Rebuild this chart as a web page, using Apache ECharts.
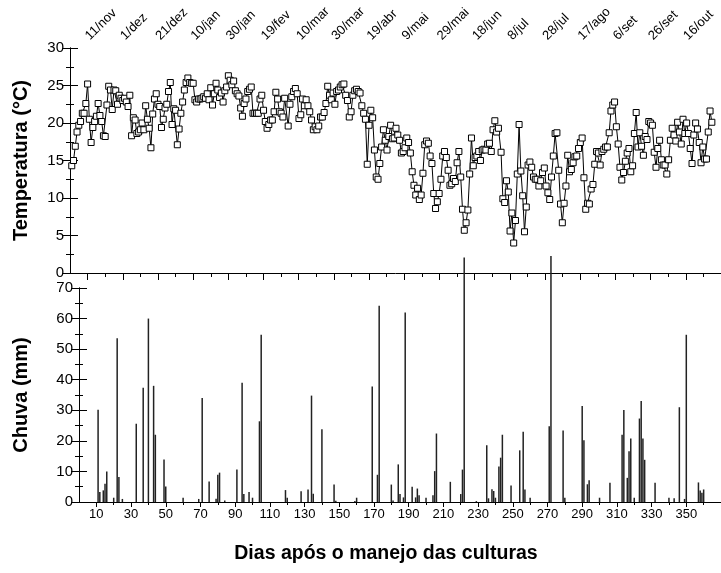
<!DOCTYPE html>
<html><head><meta charset="utf-8">
<script src="https://cdn.jsdelivr.net/npm/echarts@6/dist/echarts.min.js"></script>
<style>html,body{margin:0;padding:0;background:#fff}#c{width:721px;height:573px}</style>
</head><body><div id="c"></div>
<script>
// ---- data ----
const dateLabels = ['11/nov','1/dez','21/dez','10/jan','30/jan','19/fev','10/mar','30/mar','19/abr','9/mai','29/mai','18/jun','8/jul','28/jul','17/ago','6/set','26/set','16/out'];
const labelDays = [10,30,50,70,90,110,130,150,170,190,210,230,250,270,290,310,330,350];
const minorDays = [20,40,60,80,100,120,140,160,180,200,220,240,260,280,300,320,340,360];

// temperature readings (°C), three consecutive stretches of daily values
const tempSeg1 = [14.3,15.0,16.9,18.8,19.7,20.2,21.3,21.3,22.6,25.2,20.5,17.4,19.4,20.2,20.9,22.6,21.0,20.2,18.3,18.2,22.4,24.9,24.4,21.8,24.4,24.3,22.5,23.7,23.3,23.0,23.3,22.8,22.2,23.7,18.3,20.7,20.4,18.6,18.8,19.1,20.0,19.1,22.3,20.5,19.3,16.7,21.2,23.2,23.9,22.5,22.2,19.4,20.5,22.0,22.5,24.2,25.4,19.8,21.9,21.7,17.1,19.2,21.3,22.8,24.4,25.4,26.0,25.4,25.3,25.3,23.1,22.8,23.2,23.2,23.3,23.5,23.3,23.9,23.1,24.7,22.4,23.9,25.3,24.4,23.4,24.0,22.8,24.3,24.8,26.3,25.7,25.1,25.6,24.3,23.9,23.6,22.0,20.9,22.6,23.2,24.2,24.5,24.8,21.3,21.3,21.3,21.3,23.2,23.7,21.7,20.2,19.3,19.8,20.4,20.4,21.5,24.1,23.2,21.5,21.3,20.8,23.3];
const tempSeg2 = [19.6,22.5,23.5,24.2,24.6,23.9,20.6,21.1,23.2,22.3,23.1,22.3,21.5,20.4,19.1,19.5,19.1,19.6,20.8,20.8,21.4,22.6,24.9,23.7,23.1,24.0,22.5,24.2,24.4,24.8,25.1,25.2,23.7,23.0,20.8,21.5,23.7,24.3,24.5,24.2,24.0,22.3,21.3,20.5,14.5,19.7,21.7,20.7,16.4,12.8,12.5,14.6,16.8,19.1,17.7,16.4,18.2,19.7,17.9,18.0,19.3,18.4,17.7,16.0,16.2,16.7,18.0,17.4,16.0,13.5,11.7,10.4,11.3,9.8,10.4,13.3,17.1,17.6,17.3,15.6,14.6,10.6,8.6,9.5,10.6,12.5,15.6,16.2,15.4,13.7,11.7,11.9,12.6,12.2,14.7,16.2,12.8,8.5,5.7,6.7,8.4,13.2,18.0,14.3,15.4,15.6,16.2,15.0,16.4,16.5,16.4,17.2,17.3,16.2,19.1,20.3,18.8,19.3];
const tempSeg3 = [16.1,9.9,9.4,12.3,10.8,5.6,8.0,4.0,7.0,13.2,19.8,13.6,10.3,5.5,8.8,14.4,14.8,14.1,12.8,12.5,12.5,11.6,12.3,13.4,14.0,11.6,10.7,9.8,12.8,15.6,18.6,18.7,13.7,9.2,6.7,9.3,11.6,15.7,13.5,13.8,14.7,15.5,15.6,16.6,17.4,18.0,12.7,8.5,9.3,9.2,11.2,11.8,14.5,16.2,16.0,14.4,16.2,16.5,16.8,16.8,18.7,21.6,22.4,22.8,19.5,17.2,14.1,12.4,13.4,14.9,16.0,16.6,13.5,14.3,18.6,21.4,16.8,18.7,16.9,15.7,18.2,17.8,20.2,20.0,19.7,16.1,14.1,16.6,17.7,15.1,14.4,14.4,13.2,15.1,17.7,19.3,18.4,17.6,20.1,18.8,17.2,20.5,18.6,20.0,18.6,16.6,14.6,18.4,20.0,19.2,17.4,14.7,16.8,15.2,15.2,18.8,21.6,20.1];
// first and last day covered by each stretch
const segStart = [1, 124, 245];
const segEnd = [122, 243.5, 364.8];

// rainfall
const rainDays = [11,12,14,15,16,20,22,23,25,33,37,40,43,44,49,50,60,69,71,75,79,80,81,84,91,94,95,98,100,104,105,119,120,128,132,134,135,140,147,148,159,160,169,172,173,180,181,184,185,187,188,192,194,195,196,200,204,205,206,214,220,221,222,229,235,236,238,239,240,242,243,244,249,254,256,257,260,271,272,279,280,290,291,293,294,300,306,313,314,316,317,318,320,323,324,325,326,332,340,343,346,349,350,357,358,359,360];
const rainMm = [30.2,3.3,3.8,6,10,1.4,53.6,8.2,1,25.6,37.4,60,38,22,13.9,5.1,1.4,1,34,6.7,1.1,8.9,9.6,0.5,10.6,39,2.6,3.3,1.4,26.4,54.7,3.9,1.4,3.5,4.1,34.8,2.7,23.8,5.7,0.4,0.3,1.4,37.8,8.9,64.2,5.7,0.5,12.3,2.6,1.5,62,5,1.5,4.4,2.2,1.4,2.2,10.1,22.4,6.6,2.6,10.6,80,0.3,18.6,1.2,4.2,3.6,1.4,11.6,14.5,22,5.4,16.9,23,4.1,1.4,24.8,80.5,23.4,1.4,31.4,20.2,5.8,7.1,1.4,6.3,22,30.1,7.9,16.6,20.8,1.4,27.3,33,20.8,13.8,6.3,1.4,1.2,31,1,54.7,6.4,3.8,3,4.1];

// ---- build ----
const segs = [tempSeg1, tempSeg2, tempSeg3];
const tempData = [];
segs.forEach((s, k) => {
  const step = s.length > 1 ? (segEnd[k] - segStart[k]) / (s.length - 1) : 1;
  s.forEach((v, i) => tempData.push([segStart[k] + i * step, v]));
});
const rainData = rainDays.map((d, i) => [d, rainMm[i]]);

const FONT = 'Liberation Sans, Arial, sans-serif';
const black = '#000';
function yAx(grid, max, interval, pos, name, showLabel, gap) {
  return {
    type: 'value', gridIndex: grid, position: pos, min: 0, max: max, interval: interval,
    name: name || '', nameLocation: 'middle', nameGap: gap || 40,
    nameTextStyle: {fontFamily: FONT, fontWeight: 'bold', fontSize: 20, color: black},
    axisLine: {show: true, lineStyle: {color: black, width: 1}},
    axisTick: {show: true, inside: true, length: 8, lineStyle: {color: black}},
    minorTick: {show: true, splitNumber: 2, length: 4, lineStyle: {color: black}},
    axisLabel: {show: showLabel, fontFamily: FONT, fontSize: 15, color: black, margin: 6},
    splitLine: {show: false}
  };
}

const option = {
  animation: false,
  backgroundColor: '#fff',
  grid: [
    {left: 70, right: -4, top: 48, height: 225},
    {left: 79, right: -4, top: 288, height: 214}
  ],
  xAxis: [
    { type: 'value', gridIndex: 0, position: 'top', min: 0, max: 370,
      axisLine: {show: true, lineStyle: {color: black}},
      axisTick: {show: true, inside: true, length: 7, customValues: labelDays, lineStyle: {color: black}},
      axisLabel: {show: true, customValues: labelDays, rotate: 45, fontFamily: FONT, fontSize: 13, color: black, margin: 10,
        formatter: v => dateLabels[labelDays.indexOf(v)] || ''},
      splitLine: {show: false} },
    { type: 'value', gridIndex: 0, position: 'top', min: 0, max: 370,
      axisLine: {show: false},
      axisTick: {show: true, inside: true, length: 4, customValues: minorDays, lineStyle: {color: black}},
      axisLabel: {show: false}, splitLine: {show: false} },
    { type: 'value', gridIndex: 1, position: 'bottom', min: 0, max: 370,
      name: 'Dias após o manejo das culturas', nameLocation: 'middle', nameGap: 42,
      nameTextStyle: {fontFamily: FONT, fontWeight: 'bold', fontSize: 19.5, color: black, padding: [0, 28, 0, 0]},
      axisLine: {show: true, lineStyle: {color: black}},
      axisTick: {show: true, inside: false, length: 5, customValues: labelDays, lineStyle: {color: black}},
      axisLabel: {show: true, customValues: labelDays, fontFamily: FONT, fontSize: 13, color: black, margin: 6},
      splitLine: {show: false} },
    { type: 'value', gridIndex: 1, position: 'bottom', min: 0, max: 370,
      axisLine: {show: false},
      axisTick: {show: true, inside: false, length: 3, customValues: minorDays, lineStyle: {color: black}},
      axisLabel: {show: false}, splitLine: {show: false} }
  ],
  yAxis: [
    yAx(0, 30, 5, 'left', 'Temperatura (°C)', true, 39),
    yAx(0, 30, 5, 'right', '', false),
    yAx(1, 70, 10, 'left', 'Chuva (mm)', true, 48),
    yAx(1, 70, 10, 'right', '', false)
  ],
  series: [
    { type: 'line', xAxisIndex: 0, yAxisIndex: 0, data: tempData,
      symbol: 'rect', symbolSize: 6, showAllSymbol: true,
      lineStyle: {color: black, width: 1},
      itemStyle: {color: '#fff', borderColor: black, borderWidth: 1} },
    { type: 'bar', xAxisIndex: 2, yAxisIndex: 2, data: rainData, barWidth: 1.5, clip: false,
      itemStyle: {color: '#222'} }
  ]
};
const chart = echarts.init(document.getElementById('c'), null, {renderer: 'canvas'});
chart.setOption(option);
</script></body></html>
